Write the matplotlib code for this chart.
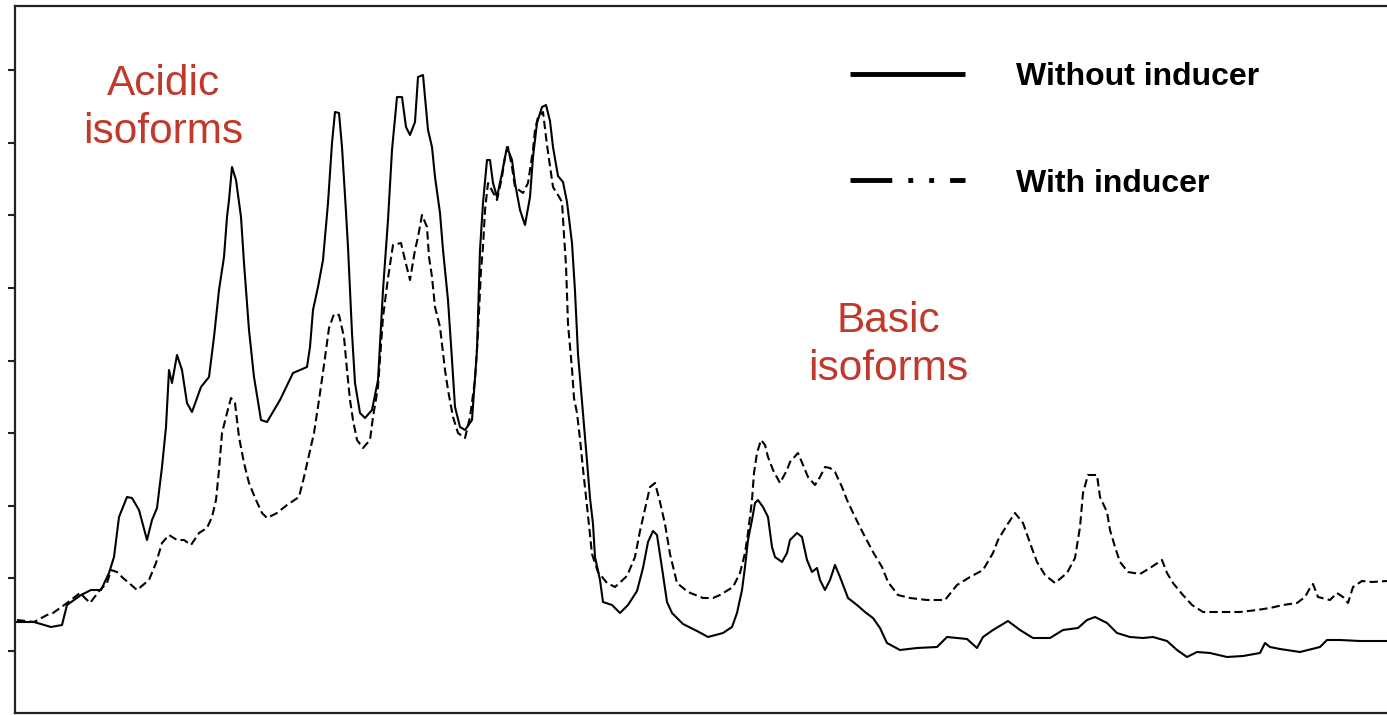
import numpy as np
import matplotlib
matplotlib.use('Agg')
import matplotlib.pyplot as plt
from matplotlib.lines import Line2D

plt.rcParams['font.family'] = ['Liberation Sans', 'DejaVu Sans']

# migration position (arbitrary units) and absorbance (arbitrary units)
pos_without = [2, 19, 36, 47, 52, 66, 76, 86, 94, 99, 104, 112, 117, 124, 132, 137, 142, 147, 151, 154,
               157, 162, 167, 172, 177, 186, 194, 199, 204, 209, 212, 214, 217, 221, 226, 229, 234, 239, 246, 252,
               265, 278, 292, 295, 298, 303, 308, 313, 317, 320, 324, 327, 331, 333, 337, 340, 345, 350, 357, 363,
               368, 373, 377, 382, 387, 391, 395, 400, 403, 408, 413, 417, 420, 425, 428, 433, 437, 440, 445, 450,
               457, 462, 465, 468, 472, 475, 478, 482, 487, 492, 497, 500, 505, 510, 515, 518, 522, 527, 531, 535,
               538, 543, 548, 552, 557, 560, 563, 568, 572, 575, 578, 580, 585, 588, 597, 605, 613, 622, 628, 633,
               638, 642, 647, 652, 657, 668, 682, 693, 708, 717, 722, 727, 730, 733, 737, 740, 743, 748, 753, 757,
               760, 767, 772, 775, 782, 787, 792, 797, 802, 805, 810, 815, 820, 825, 833, 842, 850, 858, 865, 872,
               885, 902, 922, 932, 952, 962, 968, 978, 993, 1005, 1018, 1035, 1048, 1063, 1072, 1080, 1092, 1102, 1115, 1128,
               1138, 1152, 1162, 1172, 1182, 1195, 1212, 1228, 1245, 1250, 1255, 1265, 1285, 1305, 1312, 1325, 1345, 1372]
abs_without = [91, 91, 86, 88, 108, 118, 123, 123, 140, 156, 196, 216, 215, 203, 173, 193, 205, 246, 286, 343,
               330, 358, 343, 310, 301, 326, 336, 376, 423, 456, 496, 513, 546, 533, 496, 450, 383, 336, 293, 291,
               313, 340, 346, 366, 403, 426, 453, 510, 570, 601, 600, 566, 501, 466, 380, 330, 300, 295, 303, 333,
               423, 493, 563, 616, 616, 586, 578, 591, 636, 638, 583, 566, 536, 500, 463, 413, 353, 306, 286, 283,
               293, 363, 463, 510, 553, 553, 530, 516, 540, 566, 553, 530, 503, 488, 516, 556, 590, 606, 608, 592,
               566, 537, 531, 511, 470, 422, 359, 300, 252, 215, 189, 156, 133, 111, 108, 100, 108, 122, 145, 171,
               182, 178, 145, 111, 100, 89, 82, 76, 80, 86, 100, 123, 146, 173, 193, 210, 213, 206, 196, 166,
               156, 151, 160, 173, 180, 176, 153, 141, 145, 133, 123, 133, 148, 136, 115, 108, 101, 95, 85, 70,
               63, 65, 66, 76, 74, 65, 76, 83, 92, 83, 75, 75, 83, 85, 93, 96, 90, 80, 76, 75,
               76, 72, 63, 56, 61, 60, 56, 57, 60, 70, 66, 64, 61, 66, 73, 73, 72, 72]

pos_with = [2, 19, 32, 38, 52, 65, 75, 85, 92, 96, 102, 108, 114, 122, 134, 141, 147, 154, 162, 169,
            176, 184, 192, 197, 201, 204, 207, 212, 216, 220, 224, 229, 234, 241, 247, 252, 262, 272, 284, 289,
            294, 299, 304, 309, 314, 319, 324, 329, 332, 335, 338, 342, 348, 355, 358, 363, 368, 373, 378, 386,
            390, 395, 400, 403, 407, 412, 414, 417, 420, 425, 430, 433, 438, 443, 450, 455, 460, 463, 466, 468,
            470, 473, 482, 487, 490, 493, 497, 500, 508, 513, 518, 520, 523, 528, 532, 538, 543, 547, 549, 551,
            553, 557, 559, 562, 565, 568, 572, 577, 583, 592, 600, 612, 620, 625, 630, 635, 640, 645, 650, 655,
            662, 673, 688, 698, 705, 718, 725, 730, 733, 737, 739, 742, 746, 750, 753, 758, 765, 772, 775, 783,
            788, 793, 800, 805, 810, 815, 820, 827, 832, 840, 848, 858, 867, 873, 883, 895, 912, 930, 942, 955,
            968, 978, 983, 992, 1000, 1008, 1015, 1022, 1030, 1040, 1052, 1060, 1065, 1068, 1073, 1082, 1085, 1092, 1095, 1100,
            1105, 1113, 1125, 1135, 1147, 1152, 1158, 1167, 1177, 1188, 1208, 1225, 1242, 1255, 1268, 1282, 1290, 1295, 1298, 1303,
            1315, 1322, 1328, 1333, 1338, 1347, 1357, 1372]
abs_with = [93, 91, 98, 100, 110, 120, 110, 123, 130, 143, 141, 135, 130, 123, 133, 150, 170, 178, 173, 173,
            168, 180, 185, 196, 213, 243, 280, 300, 315, 310, 276, 250, 230, 213, 200, 195, 200, 208, 216, 236,
            258, 280, 313, 348, 385, 399, 398, 376, 343, 313, 293, 273, 265, 273, 296, 326, 396, 435, 468, 470,
            453, 433, 463, 476, 498, 486, 456, 436, 406, 386, 343, 323, 296, 280, 275, 296, 333, 380, 443, 466,
            503, 530, 513, 536, 556, 566, 546, 526, 520, 530, 563, 583, 596, 601, 568, 526, 518, 511, 478, 448,
            389, 344, 315, 300, 274, 244, 207, 159, 141, 130, 126, 137, 156, 182, 204, 226, 230, 211, 189, 159,
            130, 121, 115, 115, 118, 126, 140, 160, 180, 213, 240, 260, 273, 268, 256, 243, 230, 243, 251, 260,
            248, 236, 228, 236, 246, 245, 241, 226, 213, 196, 180, 161, 146, 131, 118, 115, 113, 113, 128, 136,
            143, 160, 173, 188, 200, 190, 170, 151, 138, 130, 140, 155, 186, 220, 238, 238, 216, 201, 183, 166,
            151, 141, 139, 145, 153, 140, 130, 119, 108, 101, 101, 101, 103, 105, 108, 110, 116, 125, 129, 116,
            113, 120, 116, 110, 126, 132, 131, 132]

red = '#c0392b'

fig = plt.figure(figsize=(13.87, 7.15), dpi=100)
ax = fig.add_axes([15 / 1387, 2 / 715, 1 - 15 / 1387, 707 / 715])

ax.plot(pos_without, abs_without, color='black', lw=1.5)
ax.plot(pos_with, abs_with, color='black', lw=1.5, dashes=(4, 2))

ax.set_xlim(0, 1372)
ax.set_ylim(0, 707)
ax.set_xticks([])
ax.set_yticks(np.linspace(62, 643, 9))
ax.set_yticklabels([])
ax.tick_params(axis='y', direction='out', length=5, width=1.5, color='#222')
ax.spines['right'].set_visible(False)
for s in ['left', 'top', 'bottom']:
    ax.spines[s].set_linewidth(1.6)
    ax.spines[s].set_color('#222')

ax.text(148, 605, 'Acidic\nisoforms', color=red, fontsize=30.5, ha='center', va='center',
        multialignment='center', linespacing=1.25)
ax.text(873, 368, 'Basic\nisoforms', color=red, fontsize=30.5, ha='center', va='center',
        multialignment='center', linespacing=1.25)

handles = [Line2D([0], [0], color='black', lw=3.5, solid_capstyle='butt'),
           Line2D([0], [0], color='black', lw=3.5, dashes=(8.6, 3.3, 1, 3.3, 1, 3.3), dash_capstyle='butt')]
ax.legend(handles, ['Without inducer', 'With inducer'], loc='upper left',
          bbox_to_anchor=(850 / 1387, 1 - 62 / 715), bbox_transform=fig.transFigure,
          frameon=False, borderpad=0, borderaxespad=0, handlelength=3.6, handletextpad=1.6,
          labelspacing=2.4, prop={'size': 23, 'weight': 'bold'})

fig.savefig('out.png', dpi=100, facecolor='white')
